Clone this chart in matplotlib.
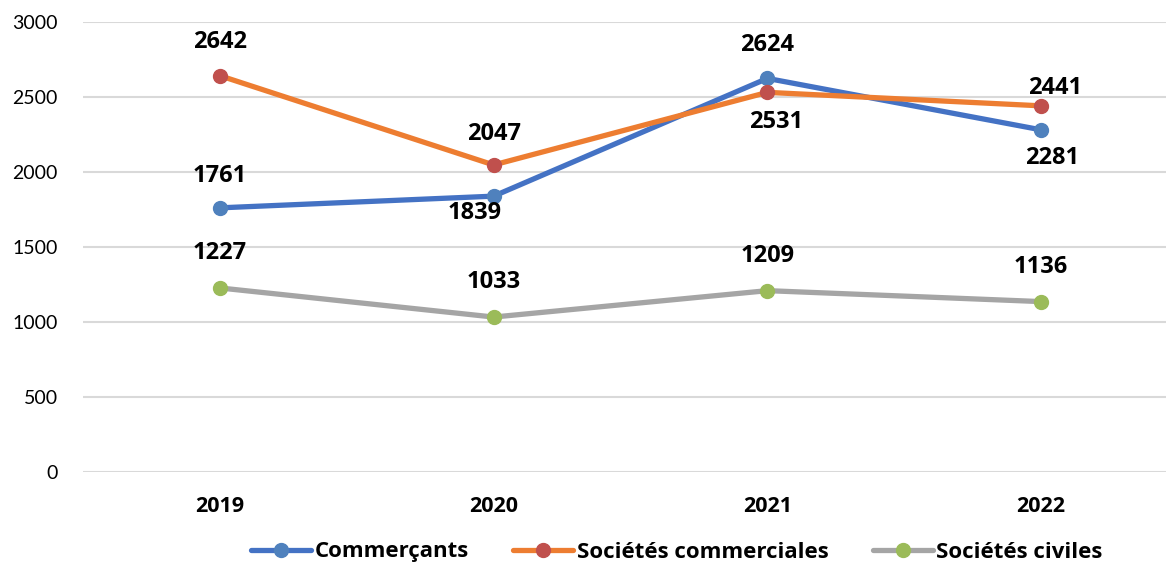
import matplotlib
matplotlib.use("Agg")
import matplotlib.pyplot as plt

years = ["2019", "2020", "2021", "2022"]
commercants = [1761, 1839, 2624, 2281]
societes_commerciales = [2642, 2047, 2531, 2441]
societes_civiles = [1227, 1033, 1209, 1136]
series_names = ["Commerçants", "Sociétés commerciales", "Sociétés civiles"]

plt.rcParams['font.family'] = ['Lato', 'DejaVu Sans']
BOLD = ['Open Sans', 'DejaVu Sans']

W, H = 1166, 566
fig = plt.figure(figsize=(W / 100, H / 100), dpi=100)
ax = fig.add_axes([83 / W, 94 / H, (1178 - 83) / W, (472 - 22) / H])

x = list(range(len(years)))
series = [commercants, societes_commerciales, societes_civiles]
line_colors = ["#4472C4", "#ED7D31", "#A5A5A5"]
marker_colors = ["#4F81BD", "#C0504D", "#9BBB59"]
# label offsets in points (dx, dy) per series per year
offsets = [
    [(0, 23), (-14, -12), (0, 24), (8, -20)],
    [(0, 24), (0, 22), (6, -21), (10, 13)],
    [(0, 25), (0, 25), (0, 25), (0, 25)],
]

for vals, name, lc, mc, offs in zip(series, series_names, line_colors, marker_colors, offsets):
    ax.plot(x, vals, color=lc, lw=3.8, marker="o", markersize=10,
            markerfacecolor=mc, markeredgecolor=mc, label=name,
            solid_capstyle="round", zorder=3)
    for xi, v, (dx, dy) in zip(x, vals, offs):
        ax.annotate(f"{v}", (xi, v), xytext=(dx, dy), textcoords="offset points",
                    ha="center", va="center", fontsize=17, fontweight="bold",
                    family=BOLD, color="black", zorder=4)

ax.set_xlim(-0.5, len(years) - 0.5)
ax.set_ylim(0, 3000)
ax.set_yticks(range(0, 3001, 500))
ax.set_xticks(x)
ax.set_xticklabels(years, fontweight="bold", fontsize=15.5, family=BOLD)
ax.tick_params(axis="y", labelsize=14, length=0, pad=18)
ax.tick_params(axis="x", length=0, pad=17)
ax.grid(axis="y", color="#D9D9D9", lw=1.5, zorder=0)
ax.set_axisbelow(True)
for s in ax.spines.values():
    s.set_visible(False)

leg = fig.legend(loc="center", bbox_to_anchor=(677 / W, 1 - 552 / H), ncol=3,
                 frameon=False, handlelength=2.7, handletextpad=0.15,
                 columnspacing=2.0, prop={"weight": "bold", "size": 16, "family": BOLD})

fig.savefig("out.png", dpi=100)
